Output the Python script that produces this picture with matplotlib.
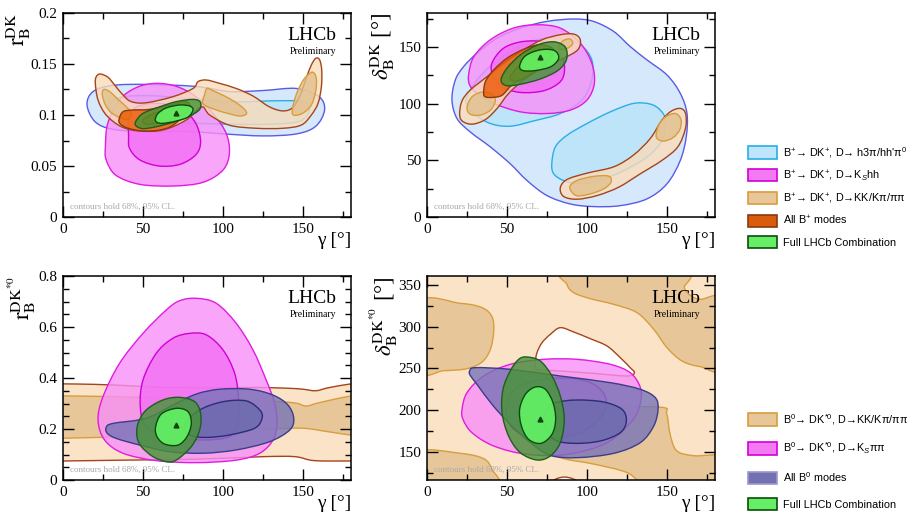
import numpy as np
import matplotlib
matplotlib.use("Agg")
import matplotlib.pyplot as plt
from matplotlib.path import Path
from matplotlib.patches import PathPatch, Patch
from matplotlib.ticker import MultipleLocator, FormatStrFormatter
from matplotlib.colors import to_rgb

plt.rcParams["font.family"] = ["Liberation Serif", "DejaVu Serif"]
plt.rcParams["mathtext.fontset"] = "custom"
plt.rcParams["mathtext.rm"] = "Liberation Sans"
plt.rcParams["mathtext.it"] = "Liberation Sans:italic"
plt.rcParams["mathtext.bf"] = "Liberation Sans:bold"

# ---------------------------------------------------------------------------
# Contour outlines, (gamma [deg], parameter) pairs
# ---------------------------------------------------------------------------
# r_B^{DK} vs gamma
rb_h3pi_95 = [(15, 0.110), (18.8, 0.123), (31, 0.129), (52, 0.130), (83, 0.128), (104, 0.123),
              (125, 0.124), (146, 0.126), (160, 0.118), (163.5, 0.105), (158, 0.089), (146, 0.0815),
              (125, 0.0795), (100, 0.0815), (79, 0.0837), (52, 0.0837), (31, 0.086), (20, 0.0935)]
rb_h3pi_68 = [(28, 0.108), (35, 0.117), (55, 0.119), (85, 0.115), (110, 0.113), (135, 0.114),
              (150, 0.113), (154, 0.105), (148, 0.094), (130, 0.091), (105, 0.091), (80, 0.092),
              (55, 0.094), (35, 0.097)]
rb_kshh_95 = [(26.5, 0.069), (28, 0.092), (35.4, 0.115), (46, 0.127), (58, 0.131), (71, 0.128),
              (83, 0.118), (94, 0.101), (102, 0.082), (104, 0.0625), (100, 0.046), (87.5, 0.034),
              (69, 0.0304), (48, 0.032), (33, 0.041), (27, 0.056)]
rb_kshh_68 = [(41, 0.0787), (41.7, 0.1016), (50, 0.110), (62.5, 0.111), (75, 0.105), (83, 0.0918),
              (86, 0.0739), (83, 0.061), (73, 0.0516), (60, 0.050), (48, 0.056), (41.7, 0.067)]
rb_kk_95 = [(23.3, 0.1402), (28.1, 0.137), (32.3, 0.1294), (37.5, 0.1196), (42.7, 0.1131),
            (52, 0.112), (68.75, 0.118), (81.25, 0.126), (84.4, 0.1327), (89.6, 0.1343),
            (97.9, 0.131), (108.3, 0.126), (118.75, 0.1186), (129, 0.108), (137.5, 0.104),
            (143.75, 0.1075), (148.3, 0.1196), (152, 0.136), (155.2, 0.149), (158, 0.1556),
            (160.4, 0.154), (161.7, 0.144), (161.5, 0.1278), (159.4, 0.1114), (155.2, 0.100),
            (149, 0.0902), (137.5, 0.087), (120.8, 0.087), (104, 0.090), (91.7, 0.100),
            (86.5, 0.108), (77, 0.0951), (62.5, 0.0853), (48, 0.0843), (36.5, 0.0885),
            (27, 0.100), (21.9, 0.1147), (20.2, 0.131), (20.8, 0.1376)]
rb_kk_68_left = [(25.4, 0.125), (29.2, 0.1229), (34.4, 0.1153), (39.6, 0.108), (42.7, 0.1016),
                 (40.6, 0.0957), (35.4, 0.0977), (30.2, 0.1023), (26.5, 0.1098), (24.6, 0.1196)]
rb_kk_68_mid = [(88.5, 0.1199), (90, 0.1261), (93.75, 0.1238), (101, 0.1186), (108.3, 0.112),
                (113.5, 0.1055), (114.6, 0.101), (110.4, 0.099), (103, 0.1016), (94.8, 0.1055),
                (87.5, 0.111)]
rb_kk_68_right = [(143.3, 0.1016), (144.2, 0.112), (146.9, 0.1245), (151, 0.136), (155.8, 0.142),
                  (158.3, 0.136), (157.9, 0.123), (155.2, 0.1098), (150.4, 0.1023), (145.8, 0.0997)]
rb_allbp_95 = [(35, 0.0957), (37.5, 0.1032), (43.75, 0.1049), (54, 0.1055), (66.7, 0.1098),
               (77, 0.113), (79, 0.105), (68.75, 0.090), (60.4, 0.0853), (50, 0.0843),
               (40.6, 0.087), (35.8, 0.0912)]
rb_allbp_68 = [(50, 0.095), (56, 0.101), (66, 0.105), (76, 0.108), (78, 0.104), (70, 0.097),
               (60, 0.092), (52, 0.091)]
rb_comb_95 = [(45.4, 0.0934), (50, 0.1016), (60.4, 0.108), (70.8, 0.1131), (81.25, 0.1153),
              (85.8, 0.1127), (85.4, 0.1055), (79.2, 0.099), (68.75, 0.0928), (58.3, 0.0885),
              (50, 0.0866), (45.8, 0.0892)]
rb_comb_68 = [(57.7, 0.0958), (59.4, 0.1016), (64.6, 0.107), (72.9, 0.1098), (79.2, 0.1088),
              (81.25, 0.105), (78.1, 0.098), (70.8, 0.0941), (62.5, 0.0918), (58.75, 0.0928)]
rb_best = (70.8, 0.1016)

# delta_B^{DK} vs gamma
db_h3pi_95 = [(15.6, 103.2), (17.7, 120.9), (22.9, 132.7), (31.25, 144.5), (43.75, 157.8),
              (58.3, 166.7), (75, 172.6), (91.7, 174.7), (104, 172.6), (116.7, 163.7),
              (127, 150.4), (137.5, 138.6), (150, 125.3), (158.3, 109.1), (162.5, 91.3),
              (162, 70.6), (158.3, 49.9), (150, 29.3), (137.5, 16), (120.8, 10), (104, 9.2),
              (89.6, 11.5), (75, 18.9), (62.5, 32.2), (52, 47), (39.6, 61.8), (27, 75.1),
              (18.75, 86.9)]
db_h3pi_68_up = [(25, 106), (31.25, 121), (41.7, 135.7), (54, 147.5), (68.75, 156.4), (83.3, 157.8),
                 (95.8, 151.9), (103, 138.6), (103, 120.9), (96.9, 103.2), (83.3, 91.3),
                 (66.7, 84.8), (52, 80.1), (39.6, 82.5), (29.2, 91.3), (24.6, 100.2)]
db_h3pi_68_low = [(78, 47), (80.2, 61.8), (87.5, 72.1), (100, 82.5), (114.6, 92.8), (129, 100.2),
                  (139.6, 99.6), (145.8, 94.3), (149, 85.4), (146.9, 67.7), (137.5, 52.9),
                  (123, 41), (108.3, 32.2), (95.8, 29.2), (85.4, 32.2), (79.2, 38.1)]
db_kshh_95 = [(26, 125.3), (29.2, 141.3), (39.6, 156.4), (54, 166.7), (68.75, 169.6), (83.3, 166.7),
              (95.8, 153.4), (103, 135.7), (104.6, 118), (100, 103.2), (89.6, 94.3), (75, 91.3),
              (58.3, 92.8), (41.7, 100.2), (31.25, 109), (26.7, 116.4)]
db_kshh_68 = [(40.6, 135.7), (47.9, 149), (60.4, 154.9), (75, 154), (83.3, 145.1), (86, 131.2),
              (83.3, 119.4), (72.9, 111.4), (58.3, 109.9), (46.9, 114.9), (41.25, 124.4)]
db_kk_95_up = [(20.4, 91.3), (21.9, 102.5), (27, 112), (37.5, 123.8), (47.9, 135.7), (60.4, 147.5),
               (71.9, 156.4), (83.3, 160.8), (91.7, 161.4), (95.8, 156.4), (94.2, 147.5),
               (85.4, 140.1), (72.9, 132.2), (60.4, 120.9), (51, 109), (43.75, 95.7), (36.5, 86),
               (28.1, 81.9), (21.9, 84.8)]
db_kk_95_low = [(83.3, 25.7), (87.5, 33.1), (100, 38.7), (116.7, 44.3), (129, 54.6), (139.6, 69.4),
                (146.9, 85.6), (153, 93.7), (158.75, 95.7), (161.7, 90.7), (161.5, 77.9),
                (156.7, 61.8), (146.9, 50), (133.3, 38.1), (119.8, 26.3), (106.25, 18.9),
                (93.75, 15.7), (85.4, 18.1)]
db_kk_68_a = [(25, 96.7), (28.1, 106), (34.4, 110.2), (40.6, 108.4), (42.7, 102.5), (39.6, 94.3),
              (33.3, 89.9), (27, 90.7)]
db_kk_68_b = [(82.3, 151), (85.4, 155.8), (89.6, 157), (91, 152.8), (87.5, 148.6), (83.3, 148)]
db_kk_68_c = [(89.2, 26.3), (93.75, 32.2), (104, 35.8), (113.5, 36.1), (115, 30.7), (110.4, 24.8),
              (102, 20.4), (93.3, 18.9)]
db_kk_68_d = [(143.3, 70.6), (144.8, 80.9), (149, 88.3), (155.2, 91.3), (158.75, 86), (158, 77.1),
              (153.75, 70), (147.5, 67)]
db_allbp_95 = [(35.4, 109), (36.5, 119.4), (41.7, 129.7), (50, 140.1), (60.4, 148), (70.8, 152),
               (79.2, 147.5), (75, 135.7), (62.5, 123.8), (53.1, 116.4), (46.9, 107.4),
               (40.6, 105.5), (36.5, 106)]
db_allbp_68 = [(52, 124), (58, 134), (66, 143), (74, 147), (78, 141), (70, 131), (60, 122), (54, 120)]
db_comb_95 = [(46.25, 120.9), (50, 131.2), (58.3, 143), (68.75, 151.6), (79.2, 154.6), (86.5, 149.8),
              (87.1, 138.6), (81.7, 129.2), (70.8, 121.8), (58.3, 117.1), (49.6, 115.9)]
db_comb_68 = [(57.9, 133.3), (61.5, 142.2), (70.8, 147.5), (79.6, 146.9), (82.3, 140.1),
              (77.5, 132.7), (67.7, 129.2), (60, 129.2)]
db_best = (70.8, 141.6)

# r_B^{DK*0} vs gamma
rb0_kk_95 = [(-5, 0.377), (0, 0.377), (20, 0.375), (40, 0.370), (60, 0.364), (85, 0.362), (100, 0.362),
             (120, 0.363), (140, 0.360), (150, 0.356), (158, 0.350), (166, 0.362), (180, 0.377),
             (185, 0.378), (185, 0.074), (180, 0.0745), (157, 0.076), (145, 0.0915), (125, 0.0915),
             (85, 0.082), (40, 0.078), (0, 0.0745), (-5, 0.074)]
rb0_kk_68 = [(-5, 0.33), (0, 0.33), (30, 0.327), (60, 0.322), (90, 0.318), (127, 0.310), (145, 0.302),
             (152, 0.290), (160, 0.303), (180, 0.33), (185, 0.33), (185, 0.174), (180, 0.176),
             (165, 0.19), (150, 0.203), (130, 0.20), (100, 0.19), (70, 0.178), (40, 0.17),
             (0, 0.164), (-5, 0.164)]
rb0_ksppi_95 = [(83.3, 0.7125), (95.8, 0.693), (108.3, 0.614), (118.75, 0.510), (127, 0.392),
                (132.3, 0.301), (133.75, 0.222), (131.25, 0.157), (123, 0.105), (108.3, 0.078),
                (83.3, 0.068), (58.3, 0.076), (37.5, 0.105), (26, 0.157), (21.9, 0.235),
                (25, 0.327), (35.4, 0.458), (50, 0.575), (64.6, 0.667), (72.9, 0.703)]
rb0_ksppi_68 = [(79.2, 0.575), (89.6, 0.569), (100, 0.510), (107.3, 0.418), (109.8, 0.314),
                (109.4, 0.222), (104, 0.170), (87.5, 0.157), (66.7, 0.170), (52, 0.209),
                (48.3, 0.288), (50, 0.392), (58.3, 0.497), (68.75, 0.556)]
rb0_allb0_95 = [(27, 0.2066), (31.25, 0.222), (52, 0.242), (68.75, 0.294), (83.3, 0.337), (98, 0.356),
                (116.7, 0.356), (131.25, 0.333), (140.6, 0.294), (144.2, 0.242), (141.7, 0.196),
                (129, 0.150), (108.3, 0.118), (87.5, 0.105), (66.7, 0.111), (48, 0.137),
                (33.3, 0.163), (27.7, 0.183)]
rb0_allb0_68 = [(76, 0.216), (85.4, 0.2745), (100, 0.307), (114.6, 0.310), (123, 0.2745),
                (124.4, 0.242), (119.8, 0.203), (104, 0.1765), (89.6, 0.167), (79.2, 0.1765)]
rb0_comb_95 = [(46.9, 0.222), (52, 0.2745), (62.5, 0.314), (72.9, 0.324), (82.3, 0.307), (86, 0.261),
               (85.4, 0.196), (80.2, 0.131), (70.8, 0.078), (64.6, 0.072), (56.25, 0.0915),
               (49, 0.131), (46.25, 0.170)]
rb0_comb_68 = [(57.9, 0.209), (61.5, 0.259), (70.8, 0.281), (78.1, 0.268), (80.2, 0.222),
               (77.5, 0.170), (71.9, 0.137), (63.5, 0.141), (58.75, 0.170)]
rb0_best = (70.8, 0.2157)

# delta_B^{DK*0} vs gamma
db0_kk_95 = [(-5, 100), (185, 100), (185, 370), (-5, 370)]
db0_kk_hole = [(67.7, 256.8), (68.75, 268.8), (71.9, 280.8), (77.1, 290.8), (83.3, 298.8),
               (91.7, 293.6), (102, 285.6), (112.5, 276.8), (120.8, 262.8), (127, 250.8),
               (129.6, 244.8), (125, 240.8), (104, 244), (83.3, 246.8), (68.75, 248.8)]
db0_kk_hole_low = [(78, 112), (81, 117.5), (86, 119.5), (91, 117.5), (95, 112)]
db0_kk_68_top = [(88.5, 365), (87.5, 350.8), (91.7, 340.8), (102, 333.6), (116.7, 326.8),
                 (131.25, 316.8), (141.7, 296.8), (150, 274.8), (159.4, 258.8), (170.8, 252),
                 (186, 250.4), (186, 332), (170.8, 332.8), (164.6, 337.6), (160.8, 346.8),
                 (159.4, 365)]
db0_kk_68_tl = [(-5, 328.8), (20.8, 328), (34.4, 322.8), (40.6, 312), (41.7, 294.8), (39.6, 272.8),
                (34.4, 257.6), (25, 249.6), (10.4, 247.2), (-5, 247.2)]
db0_kk_68_bl = [(-5, 149.6), (20.8, 148), (35.4, 141.6), (40.6, 128.8), (42, 110), (-5, 110)]
db0_kk_68_br = [(80, 201), (104, 203.4), (145.6, 203.4), (149.8, 195.4), (151.9, 171.3), (156, 151.2),
                (166.5, 145.2), (186, 143), (186, 108), (141, 108), (124.8, 125.1), (104, 135.2),
                (83, 143.2), (72, 160)]
db0_ksppi_95 = [(21.9, 200.8), (25, 220.8), (35.4, 240.8), (52, 254.8), (72.9, 260.8),
                (93.75, 260.8), (114.6, 254.8), (127, 244.8), (133, 228.8), (133.75, 212.8),
                (129, 188.8), (112.5, 160.8), (87.5, 146.8), (62.5, 146.8), (41.7, 156.8),
                (28.1, 172.8), (22.5, 188.8)]
db0_ksppi_68 = [(50, 205), (55, 225), (70, 236), (90, 238), (105, 230), (112, 212), (108, 190),
                (95, 172), (75, 165), (58, 172), (50, 188)]
db0_allb0_95 = [(26.7, 246.8), (30.2, 250.8), (52, 248.8), (83.3, 240.8), (114.6, 232.8),
                (133.3, 224.8), (142.7, 214.8), (144.4, 200.8), (141.7, 180.8), (133.3, 160.8),
                (116.7, 148), (93.75, 142.8), (77, 145.6), (64.6, 160.8), (52, 182.8),
                (40.6, 206.8), (31.25, 230.8), (27, 241.6)]
db0_allb0_68 = [(80.2, 208.8), (93.75, 212), (110.4, 209.6), (121.9, 200.8), (124.6, 186.8),
                (120.8, 172.8), (108.3, 162.8), (91.7, 160), (79.2, 164.8), (72.9, 184.8),
                (75, 200.8)]
db0_comb_95 = [(62.5, 263.6), (70.8, 258.8), (78.1, 240.8), (83.3, 216.8), (85.8, 188.8),
               (83.3, 160.8), (77, 144.8), (68.75, 140), (58.3, 148.8), (51, 168.8), (46.9, 196.8),
               (47.5, 224.8), (52, 246.8), (57.3, 260.8)]
db0_comb_68 = [(67.7, 227.6), (74, 224.8), (78.75, 208.8), (80.4, 188.8), (78.1, 170.8),
               (71.25, 160), (63.5, 164.8), (59, 180.8), (57.9, 200.8), (61.5, 218.8)]
db0_best = (70.8, 189.6)

# Legend entries
labels_bplus = ["B$^{+}$\u2192 DK$^{+}$, D\u2192 h3\u03c0/hh'\u03c0$^{0}$",
                "B$^{+}$\u2192 DK$^{+}$, D\u2192K$_{S}$hh",
                "B$^{+}$\u2192 DK$^{+}$, D\u2192KK/K\u03c0/\u03c0\u03c0",
                "All B$^{+}$ modes",
                "Full LHCb Combination"]
labels_bzero = ["B$^{0}$\u2192 DK$^{*0}$, D\u2192KK/K\u03c0/\u03c0\u03c0",
                "B$^{0}$\u2192 DK$^{*0}$, D\u2192K$_{S}$\u03c0\u03c0",
                "All B$^{0}$ modes",
                "Full LHCb Combination"]

# ---------------------------------------------------------------------------
# Styles: (95% fill, 95% edge, 68% fill, 68% edge), fills as seen on white
# ---------------------------------------------------------------------------
STY = {
    "h3pi": ("#d6e9fb", "#5a5ae6", "#bee5f9", "#29aee6"),
    "kshh": ("#f9a5f9", "#e11be1", "#f47af4", "#d000d8"),
    "kk":   ("#fce3c8", "#a5441c", "#e7c79a", "#d89d3c"),
    "allbp": ("#f07a22", "#8a3a10", "#d85c0c", "#8a3a10"),
    "comb": ("#6aaa5c", "#1e5f1e", "#66ee66", "#0b4d0b"),
    "allb0": ("#9390c6", "#3c3c8c", "#7371b2", "#2c2c78"),
}
ALPHA = 0.8


def rgba(target, under="white", a=ALPHA):
    t = np.array(to_rgb(target))
    u = np.array(to_rgb(under))
    base = np.clip((t - (1 - a) * u) / a, 0, 1)
    return (*base, a)


def smooth_path(pts, tension=1.0 / 6.0):
    p = np.asarray(pts, dtype=float)
    n = len(p)
    verts = [p[0]]
    codes = [Path.MOVETO]
    for i in range(n):
        p0, p1, p2, p3 = p[i - 1], p[i], p[(i + 1) % n], p[(i + 2) % n]
        verts += [p1 + (p2 - p0) * tension, p2 - (p3 - p1) * tension, p2]
        codes += [Path.CURVE4] * 3
    verts.append(p[0])
    codes.append(Path.CLOSEPOLY)
    return Path(verts, codes)


def region(ax, pts, fc, ec, lw=1.0, smooth=True, z=1):
    path = smooth_path(pts) if smooth else Path(np.vstack([pts, pts[:1]]), closed=True)
    ax.add_patch(PathPatch(path, facecolor=fc, edgecolor=ec, lw=lw, zorder=z))


def pair(ax, key, outer_list, inner_list, z):
    f95, e95, f68, e68 = STY[key]
    for pts in outer_list:
        region(ax, pts, rgba(f95), e95, z=z)
    for pts in inner_list:
        region(ax, pts, rgba(f68, f95), e68, z=z + 0.5)


fig = plt.figure(figsize=(9.07, 5.15), dpi=100)
W, H = 907.0, 515.0
aw, ah = 288 / W, 204 / H
ax1 = fig.add_axes([63 / W, (H - 217) / H, aw, ah])
ax2 = fig.add_axes([427 / W, (H - 217) / H, aw, ah])
ax3 = fig.add_axes([63 / W, (H - 480) / H, aw, ah])
ax4 = fig.add_axes([427 / W, (H - 480) / H, aw, ah])

# panel 1
pair(ax1, "h3pi", [rb_h3pi_95], [rb_h3pi_68], 1)
pair(ax1, "kshh", [rb_kshh_95], [rb_kshh_68], 2)
pair(ax1, "kk", [rb_kk_95], [rb_kk_68_left, rb_kk_68_mid, rb_kk_68_right], 3)
pair(ax1, "allbp", [rb_allbp_95], [rb_allbp_68], 4)
pair(ax1, "comb", [rb_comb_95], [rb_comb_68], 5)
ax1.plot(*rb_best, marker="^", ms=3.5, color="#114411", zorder=7)

# panel 2
pair(ax2, "h3pi", [db_h3pi_95], [db_h3pi_68_up, db_h3pi_68_low], 1)
pair(ax2, "kshh", [db_kshh_95], [db_kshh_68], 2)
pair(ax2, "kk", [db_kk_95_up, db_kk_95_low], [db_kk_68_a, db_kk_68_b, db_kk_68_c, db_kk_68_d], 3)
pair(ax2, "allbp", [db_allbp_95], [db_allbp_68], 4)
pair(ax2, "comb", [db_comb_95], [db_comb_68], 5)
ax2.plot(*db_best, marker="^", ms=3.5, color="#114411", zorder=7)

# panel 3
pair(ax3, "kk", [rb0_kk_95], [rb0_kk_68], 1)
pair(ax3, "kshh", [rb0_ksppi_95], [rb0_ksppi_68], 2)
pair(ax3, "allb0", [rb0_allb0_95], [rb0_allb0_68], 3)
pair(ax3, "comb", [rb0_comb_95], [rb0_comb_68], 4)
ax3.plot(*rb0_best, marker="^", ms=3.5, color="#114411", zorder=7)

# panel 4
f95, e95, f68, e68 = STY["kk"]
region(ax4, db0_kk_95, rgba(f95), "none", smooth=False, z=1)
for pts in (db0_kk_68_top, db0_kk_68_tl, db0_kk_68_bl, db0_kk_68_br):
    region(ax4, pts, rgba(f68, f95), e68, z=1.5)
for pts in (db0_kk_hole, db0_kk_hole_low):
    region(ax4, pts, "white", e95, z=1.6)
pair(ax4, "kshh", [db0_ksppi_95], [db0_ksppi_68], 2)
pair(ax4, "allb0", [db0_allb0_95], [db0_allb0_68], 3)
pair(ax4, "comb", [db0_comb_95], [db0_comb_68], 4)
ax4.plot(*db0_best, marker="^", ms=3.5, color="#114411", zorder=7)

# axes cosmetics
setup = [
    (ax1, (0, 0.2), 0.05, 0.025, r"$\mathrm{r}_{\mathrm{B}}^{\mathrm{DK}}$", -0.105),
    (ax2, (0, 180), 50, 25, r"$\delta_{\mathrm{B}}^{\mathrm{DK}}$ [°]", -0.105),
    (ax3, (0, 0.8), 0.2, 0.05, r"$\mathrm{r}_{\mathrm{B}}^{\mathrm{DK^{*0}}}$", -0.087),
    (ax4, (116, 360.8), 50, 25, r"$\delta_{\mathrm{B}}^{\mathrm{DK^{*0}}}$ [°]", -0.095),
]
for ax, ylim, ymaj, ymin, ylab, ylx in setup:
    ax.set_xlim(0, 180)
    ax.set_ylim(*ylim)
    ax.xaxis.set_major_locator(MultipleLocator(50))
    ax.xaxis.set_minor_locator(MultipleLocator(25))
    ax.yaxis.set_major_locator(MultipleLocator(ymaj))
    ax.yaxis.set_minor_locator(MultipleLocator(ymin))
    ax.yaxis.set_major_formatter(FormatStrFormatter("%g"))
    ax.tick_params(which="both", direction="in", top=True, right=True, width=1.0,
                   labelsize=11, pad=4)
    ax.tick_params(which="major", length=8)
    ax.tick_params(which="minor", length=4)
    for s in ax.spines.values():
        s.set_linewidth(1.1)
    ax.set_xlabel("γ [°]", fontsize=14, loc="right")
    ax.xaxis.set_label_coords(1.0, -0.072)
    ax.set_ylabel(ylab, fontsize=16.5, loc="top", math_fontfamily="stix")
    ax.yaxis.set_label_coords(ylx, 1.0)
    ax.text(0.951, 0.868, "LHCb", transform=ax.transAxes, ha="right", va="baseline",
            fontsize=14, zorder=10)
    ax.text(0.948, 0.80, "Preliminary", transform=ax.transAxes, ha="right", va="baseline",
            fontsize=7, zorder=10)
    ax.text(0.024, 0.04, "contours hold 68%, 95% CL.", transform=ax.transAxes, ha="left",
            va="baseline", fontsize=6.5, color="#a8a8a8", zorder=10)

# legends
def handle(key, fill_idx=2, edge_idx=3):
    sty = STY[key]
    return Patch(facecolor=sty[fill_idx], edgecolor=sty[edge_idx], lw=1.2)

leg_font = {"family": ["Liberation Sans", "DejaVu Sans"], "size": 7.8}
h_bplus = [handle("h3pi"), handle("kshh"), handle("kk"), handle("allbp"), handle("comb")]
h_bzero = [handle("kk"), handle("kshh"), Patch(facecolor="#7471b3", edgecolor="#9a98cc", lw=1.2),
           handle("comb")]
common = dict(loc="upper left", frameon=False, prop=leg_font, handlelength=2.7,
              handleheight=1.4, handletextpad=0.55, borderpad=0, borderaxespad=0)
fig.legend(h_bplus, labels_bplus, bbox_to_anchor=(748 / W, 1 - 145 / H), labelspacing=0.77,
           **common)
fig.legend(h_bzero, labels_bzero, bbox_to_anchor=(748 / W, 1 - 412 / H), labelspacing=1.27,
           **common)

fig.savefig("out.png", dpi=100, facecolor="white")
